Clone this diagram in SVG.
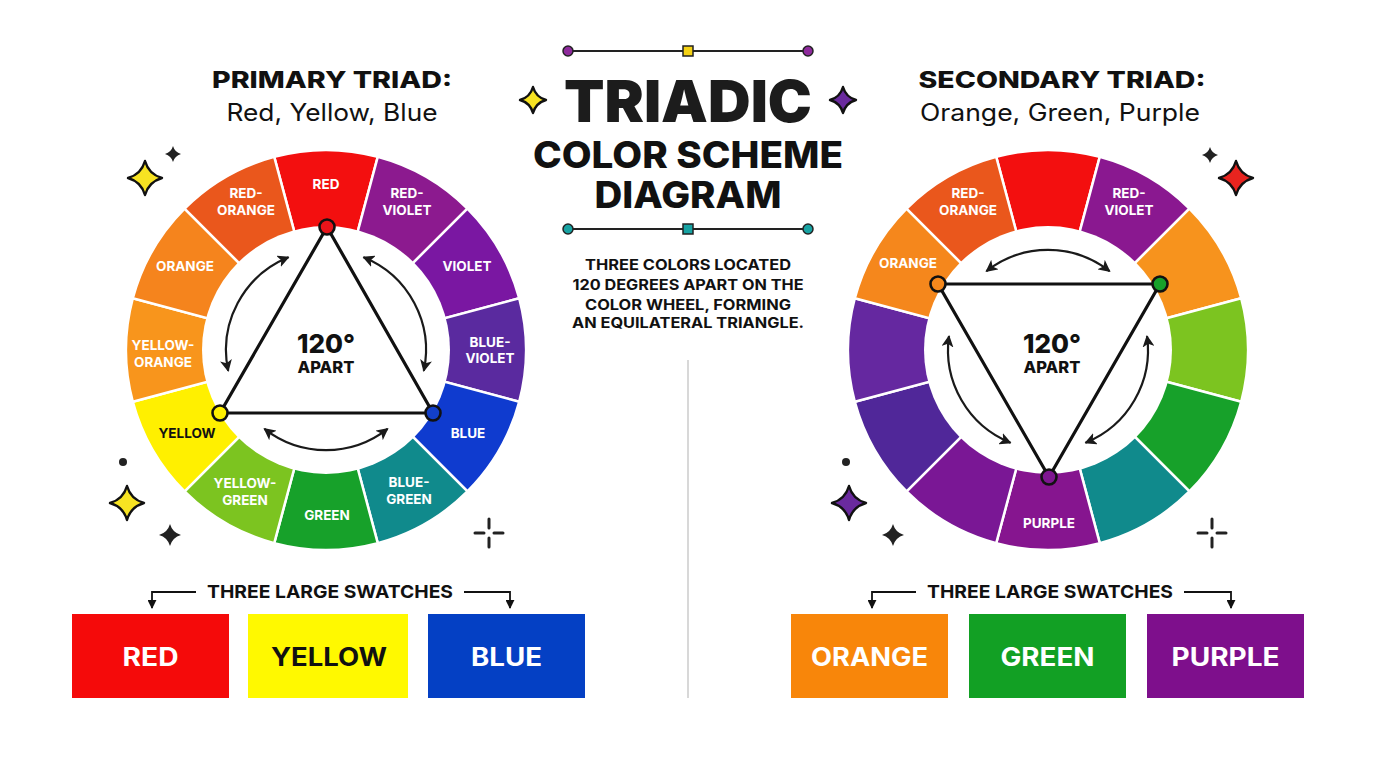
<svg xmlns="http://www.w3.org/2000/svg" width="1376" height="768" viewBox="0 0 1376 768">
<style>
.f{font-family:Inter,"Open Sans","Liberation Sans",sans-serif}
.lbl{font-family:Inter,"Open Sans","Liberation Sans",sans-serif;font-weight:700;font-size:13.5px;fill:#fff;text-anchor:middle}
.seg{stroke:#fff;stroke-width:2.5;stroke-linejoin:round}
.tri{fill:none;stroke:#111;stroke-width:3.2;stroke-linejoin:round}
.vtx{stroke:#111;stroke-width:2.6}
.arc{fill:none;stroke:#1a1a1a;stroke-width:2.2;marker-start:url(#ah);marker-end:url(#ah)}
.star{stroke:#111;stroke-width:2.4;stroke-linejoin:round}
.dk{fill:#222}
.cross{stroke:#222;stroke-width:3;stroke-linecap:round}
.sw{font-family:Inter,"Open Sans","Liberation Sans",sans-serif;font-weight:700;font-size:25px;text-anchor:middle}
.cap{font-family:Inter,"Open Sans","Liberation Sans",sans-serif;font-weight:700;font-size:18px;fill:#111;text-anchor:middle}
.brk{fill:none;stroke:#111;stroke-width:1.8;marker-end:url(#ah2)}
</style>
<defs>
<marker id="ah" viewBox="0 0 10 10" refX="9" refY="5" markerWidth="12" markerHeight="12" markerUnits="userSpaceOnUse" orient="auto-start-reverse"><path d="M0,0 L10,5 L0,10 L2.5,5 Z" fill="#1a1a1a"/></marker>
<marker id="ah2" viewBox="0 0 10 10" refX="9" refY="5" markerWidth="9" markerHeight="9" markerUnits="userSpaceOnUse" orient="auto"><path d="M0,0 L10,5 L0,10 Z" fill="#111"/></marker>
</defs>
<rect width="1376" height="768" fill="#fff"/>

<!-- Title -->
<g id="title">
<line x1="568" y1="51" x2="808" y2="51" stroke="#222" stroke-width="2"/>
<circle cx="568" cy="51" r="5" fill="#8E2A9C" stroke="#222" stroke-width="1.5"/>
<circle cx="808" cy="51" r="5" fill="#8E2A9C" stroke="#222" stroke-width="1.5"/>
<rect x="683" y="46" width="10" height="10" fill="#F5D214" stroke="#222" stroke-width="1.5"/>
<text class="f" x="688" y="122" font-size="58" font-weight="900" fill="#1c1c1c" text-anchor="middle" textLength="248" lengthAdjust="spacingAndGlyphs">TRIADIC</text>
<text class="f" x="688" y="168" font-size="36.5" font-weight="800" fill="#111" text-anchor="middle" textLength="310" lengthAdjust="spacingAndGlyphs">COLOR SCHEME</text>
<text class="f" x="688" y="208" font-size="36.5" font-weight="800" fill="#111" text-anchor="middle" textLength="187" lengthAdjust="spacingAndGlyphs">DIAGRAM</text>
<line x1="568" y1="229" x2="808" y2="229" stroke="#222" stroke-width="2"/>
<circle cx="568" cy="229" r="5" fill="#17A3A3" stroke="#222" stroke-width="1.5"/>
<circle cx="808" cy="229" r="5" fill="#17A3A3" stroke="#222" stroke-width="1.5"/>
<rect x="683" y="224" width="10" height="10" fill="#17A3A3" stroke="#222" stroke-width="1.5"/>
<path class="star" fill="#F7E322" d="M533,87 Q535.86,97.14 546,100 Q535.86,102.86 533,113 Q530.14,102.86 520,100 Q530.14,97.14 533,87Z"/>
<path class="star" fill="#6A2A9E" d="M843,87 Q845.86,97.14 856,100 Q845.86,102.86 843,113 Q840.14,102.86 830,100 Q840.14,97.14 843,87Z"/>
</g>

<g id="description" class="f" font-size="14.5" font-weight="700" fill="#111" text-anchor="middle">
<text x="688" y="270" textLength="206" lengthAdjust="spacingAndGlyphs">THREE COLORS LOCATED</text>
<text x="688" y="290" textLength="231" lengthAdjust="spacingAndGlyphs">120 DEGREES APART ON THE</text>
<text x="688" y="310" textLength="206" lengthAdjust="spacingAndGlyphs">COLOR WHEEL, FORMING</text>
<text x="688" y="328" textLength="232" lengthAdjust="spacingAndGlyphs">AN EQUILATERAL TRIANGLE.</text>
</g>

<line id="divider" x1="688" y1="360" x2="688" y2="698" stroke="#cfcfcf" stroke-width="1.6"/>

<g id="primary-heading" class="f" fill="#111" text-anchor="middle">
<text x="332" y="88" font-size="23" font-weight="800" textLength="240" lengthAdjust="spacingAndGlyphs">PRIMARY TRIAD:</text>
<text x="332" y="121" font-size="24" font-weight="400" textLength="211" lengthAdjust="spacingAndGlyphs">Red, Yellow, Blue</text>
</g>
<g id="secondary-heading" class="f" fill="#111" text-anchor="middle">
<text x="1062" y="88" font-size="23" font-weight="800" textLength="287" lengthAdjust="spacingAndGlyphs">SECONDARY TRIAD:</text>
<text x="1060" y="121" font-size="24" font-weight="400" textLength="280" lengthAdjust="spacingAndGlyphs">Orange, Green, Purple</text>
</g>

<!-- Left wheel -->
<g id="primary-wheel">
<g id="l-red"><path class="seg" fill="#F30F0F" d="M326,350 L274.24,156.81 A200,200 0 0 1 377.76,156.81 Z"/></g>
<g id="l-red-violet"><path class="seg" fill="#8C1A8F" d="M326,350 L377.76,156.81 A200,200 0 0 1 467.42,208.58 Z"/></g>
<g id="l-violet"><path class="seg" fill="#7A17A2" d="M326,350 L467.42,208.58 A200,200 0 0 1 519.19,298.24 Z"/></g>
<g id="l-blue-violet"><path class="seg" fill="#5A2A9F" d="M326,350 L519.19,298.24 A200,200 0 0 1 519.19,401.76 Z"/></g>
<g id="l-blue"><path class="seg" fill="#0F3BCF" d="M326,350 L519.19,401.76 A200,200 0 0 1 467.42,491.42 Z"/></g>
<g id="l-blue-green"><path class="seg" fill="#108A8C" d="M326,350 L467.42,491.42 A200,200 0 0 1 377.76,543.19 Z"/></g>
<g id="l-green"><path class="seg" fill="#17A12A" d="M326,350 L377.76,543.19 A200,200 0 0 1 274.24,543.19 Z"/></g>
<g id="l-yellow-green"><path class="seg" fill="#7CC420" d="M326,350 L274.24,543.19 A200,200 0 0 1 184.58,491.42 Z"/></g>
<g id="l-yellow"><path class="seg" fill="#FFF000" d="M326,350 L184.58,491.42 A200,200 0 0 1 132.81,401.76 Z"/></g>
<g id="l-yellow-orange"><path class="seg" fill="#F8951C" d="M326,350 L132.81,401.76 A200,200 0 0 1 132.81,298.24 Z"/></g>
<g id="l-orange"><path class="seg" fill="#F5841D" d="M326,350 L132.81,298.24 A200,200 0 0 1 184.58,208.58 Z"/></g>
<g id="l-red-orange"><path class="seg" fill="#EA571C" d="M326,350 L184.58,208.58 A200,200 0 0 1 274.24,156.81 Z"/></g>
<circle cx="326" cy="350" r="124" fill="#fff"/>
<g class="lbl">
<text x="326" y="189">RED</text>
<text x="407" y="198">RED-</text><text x="407" y="215">VIOLET</text>
<text x="467" y="271">VIOLET</text>
<text x="490" y="347">BLUE-</text><text x="490" y="363">VIOLET</text>
<text x="468" y="438">BLUE</text>
<text x="409" y="487">BLUE-</text><text x="409" y="504">GREEN</text>
<text x="327" y="520">GREEN</text>
<text x="245" y="488">YELLOW-</text><text x="245" y="505">GREEN</text>
<text x="187" y="438" fill="#111">YELLOW</text>
<text x="163" y="350">YELLOW-</text><text x="163" y="367">ORANGE</text>
<text x="185" y="271">ORANGE</text>
<text x="246" y="198">RED-</text><text x="246" y="215">ORANGE</text>
</g>
<text class="f" x="326" y="353" font-size="26" font-weight="800" fill="#111" text-anchor="middle">120°</text>
<text class="f" x="326" y="373" font-size="16.5" font-weight="800" fill="#111" text-anchor="middle">APART</text>
</g>

<!-- Right wheel -->
<g id="secondary-wheel">
<g id="r-red"><path class="seg" fill="#F30F0F" d="M1048,350 L996.24,156.81 A200,200 0 0 1 1099.76,156.81 Z"/></g>
<g id="r-red-violet"><path class="seg" fill="#8A1890" d="M1048,350 L1099.76,156.81 A200,200 0 0 1 1189.42,208.58 Z"/></g>
<g id="r-orange2"><path class="seg" fill="#F7931D" d="M1048,350 L1189.42,208.58 A200,200 0 0 1 1241.19,298.24 Z"/></g>
<g id="r-yellow-green"><path class="seg" fill="#7CC420" d="M1048,350 L1241.19,298.24 A200,200 0 0 1 1241.19,401.76 Z"/></g>
<g id="r-green"><path class="seg" fill="#17A12A" d="M1048,350 L1241.19,401.76 A200,200 0 0 1 1189.42,491.42 Z"/></g>
<g id="r-teal"><path class="seg" fill="#108A8C" d="M1048,350 L1189.42,491.42 A200,200 0 0 1 1099.76,543.19 Z"/></g>
<g id="r-purple"><path class="seg" fill="#86158F" d="M1048,350 L1099.76,543.19 A200,200 0 0 1 996.24,543.19 Z"/></g>
<g id="r-purple2"><path class="seg" fill="#7A1795" d="M1048,350 L996.24,543.19 A200,200 0 0 1 906.58,491.42 Z"/></g>
<g id="r-blue-violet"><path class="seg" fill="#502799" d="M1048,350 L906.58,491.42 A200,200 0 0 1 854.81,401.76 Z"/></g>
<g id="r-violet"><path class="seg" fill="#6528A0" d="M1048,350 L854.81,401.76 A200,200 0 0 1 854.81,298.24 Z"/></g>
<g id="r-orange"><path class="seg" fill="#F5871C" d="M1048,350 L854.81,298.24 A200,200 0 0 1 906.58,208.58 Z"/></g>
<g id="r-red-orange"><path class="seg" fill="#EA571C" d="M1048,350 L906.58,208.58 A200,200 0 0 1 996.24,156.81 Z"/></g>
<circle cx="1048" cy="350" r="124" fill="#fff"/>
<g class="lbl">
<text x="1129" y="198">RED-</text><text x="1129" y="215">VIOLET</text>
<text x="968" y="198">RED-</text><text x="968" y="215">ORANGE</text>
<text x="908" y="268">ORANGE</text>
<text x="1049" y="528">PURPLE</text>
</g>
<text class="f" x="1052" y="353" font-size="26" font-weight="800" fill="#111" text-anchor="middle">120°</text>
<text class="f" x="1052" y="373" font-size="16.5" font-weight="800" fill="#111" text-anchor="middle">APART</text>
</g>

<!-- Connectors -->
<g id="connectors">
<path class="arc" d="M288.5,257.3 A100,100 0 0 0 228.2,370.8"/>
<path class="arc" d="M363.5,257.3 A100,100 0 0 1 423.8,370.8"/>
<path class="arc" d="M387.6,428.8 A100,100 0 0 1 264.4,428.8"/>
<path class="arc" d="M986.4,271.2 A100,100 0 0 1 1109.6,271.2"/>
<path class="arc" d="M1010.5,442.7 A100,100 0 0 1 949,336.1"/>
<path class="arc" d="M1147,336.1 A100,100 0 0 1 1085.5,442.7"/>
<polygon class="tri" points="327,227 433,413 220,413"/>
<polygon class="tri" points="938,284 1160,284 1049,477"/>
<path class="brk" d="M196,592 H152 V608"/>
<path class="brk" d="M464,592 H510 V608"/>
<path class="brk" d="M916,592 H872 V608"/>
<path class="brk" d="M1184,592 H1231 V608"/>
</g>

<g id="vertices">
<circle class="vtx" cx="327" cy="227" r="7.5" fill="#E8141A"/>
<circle class="vtx" cx="220" cy="413" r="7.5" fill="#FFF000"/>
<circle class="vtx" cx="433" cy="413" r="7.5" fill="#1340C8"/>
<circle class="vtx" cx="938" cy="284" r="7.5" fill="#F5881C"/>
<circle class="vtx" cx="1160" cy="284" r="7.5" fill="#16A12A"/>
<circle class="vtx" cx="1049" cy="477" r="7.5" fill="#7E1690"/>
</g>

<!-- Swatches -->
<text class="cap" x="330" y="598" textLength="246" lengthAdjust="spacingAndGlyphs">THREE LARGE SWATCHES</text>
<text class="cap" x="1050" y="598" textLength="246" lengthAdjust="spacingAndGlyphs">THREE LARGE SWATCHES</text>
<g id="sw-red"><rect x="72" y="614" width="157" height="84" fill="#F50A0A"/><text class="sw" x="150.5" y="666" fill="#fff" textLength="56" lengthAdjust="spacingAndGlyphs">RED</text></g>
<g id="sw-yellow"><rect x="248" y="614" width="160" height="84" fill="#FFF900"/><text class="sw" x="329" y="666" fill="#111" textLength="116" lengthAdjust="spacingAndGlyphs">YELLOW</text></g>
<g id="sw-blue"><rect x="428" y="614" width="157" height="84" fill="#0440C4"/><text class="sw" x="506.5" y="666" fill="#fff" textLength="71" lengthAdjust="spacingAndGlyphs">BLUE</text></g>
<g id="sw-orange"><rect x="791" y="614" width="157" height="84" fill="#F8860A"/><text class="sw" x="869.5" y="666" fill="#fff" textLength="117" lengthAdjust="spacingAndGlyphs">ORANGE</text></g>
<g id="sw-green"><rect x="969" y="614" width="157" height="84" fill="#12A024"/><text class="sw" x="1047.5" y="666" fill="#fff" textLength="94" lengthAdjust="spacingAndGlyphs">GREEN</text></g>
<g id="sw-purple"><rect x="1147" y="614" width="157" height="84" fill="#7E0F8C"/><text class="sw" x="1225.5" y="666" fill="#fff" textLength="108" lengthAdjust="spacingAndGlyphs">PURPLE</text></g>

<!-- Decorations -->
<g id="decor">
<path class="star" fill="#F7E322" d="M145,161 Q148.74,174.26 162,178 Q148.74,181.74 145,195 Q141.26,181.74 128,178 Q141.26,174.26 145,161Z"/>
<path class="dk" d="M173,146 Q174.76,152.24 181,154 Q174.76,155.76 173,162 Q171.24,155.76 165,154 Q171.24,152.24 173,146Z"/>
<circle class="dk" cx="123" cy="462" r="4"/>
<path class="star" fill="#F7E322" d="M127,486 Q130.74,499.26 144,503 Q130.74,506.74 127,520 Q123.26,506.74 110,503 Q123.26,499.26 127,486Z"/>
<path class="dk" d="M170,524 Q172.42,532.58 181,535 Q172.42,537.42 170,546 Q167.58,537.42 159,535 Q167.58,532.58 170,524Z"/>
<path class="cross" d="M489,519 V528 M489,538 V547 M475,533 H484 M494,533 H503"/>
<path class="dk" d="M1210,147 Q1211.76,153.24 1218,155 Q1211.76,156.76 1210,163 Q1208.24,156.76 1202,155 Q1208.24,153.24 1210,147Z"/>
<path class="star" fill="#E8241F" d="M1236,161 Q1239.74,174.26 1253,178 Q1239.74,181.74 1236,195 Q1232.26,181.74 1219,178 Q1232.26,174.26 1236,161Z"/>
<circle class="dk" cx="846" cy="462" r="4"/>
<path class="star" fill="#6A2A9E" d="M849,486 Q852.74,499.26 866,503 Q852.74,506.74 849,520 Q845.26,506.74 832,503 Q845.26,499.26 849,486Z"/>
<path class="dk" d="M893,524 Q895.42,532.58 904,535 Q895.42,537.42 893,546 Q890.58,537.42 882,535 Q890.58,532.58 893,524Z"/>
<path class="cross" d="M1212,519 V528 M1212,538 V547 M1198,533 H1207 M1217,533 H1226"/>
</g>
</svg>
